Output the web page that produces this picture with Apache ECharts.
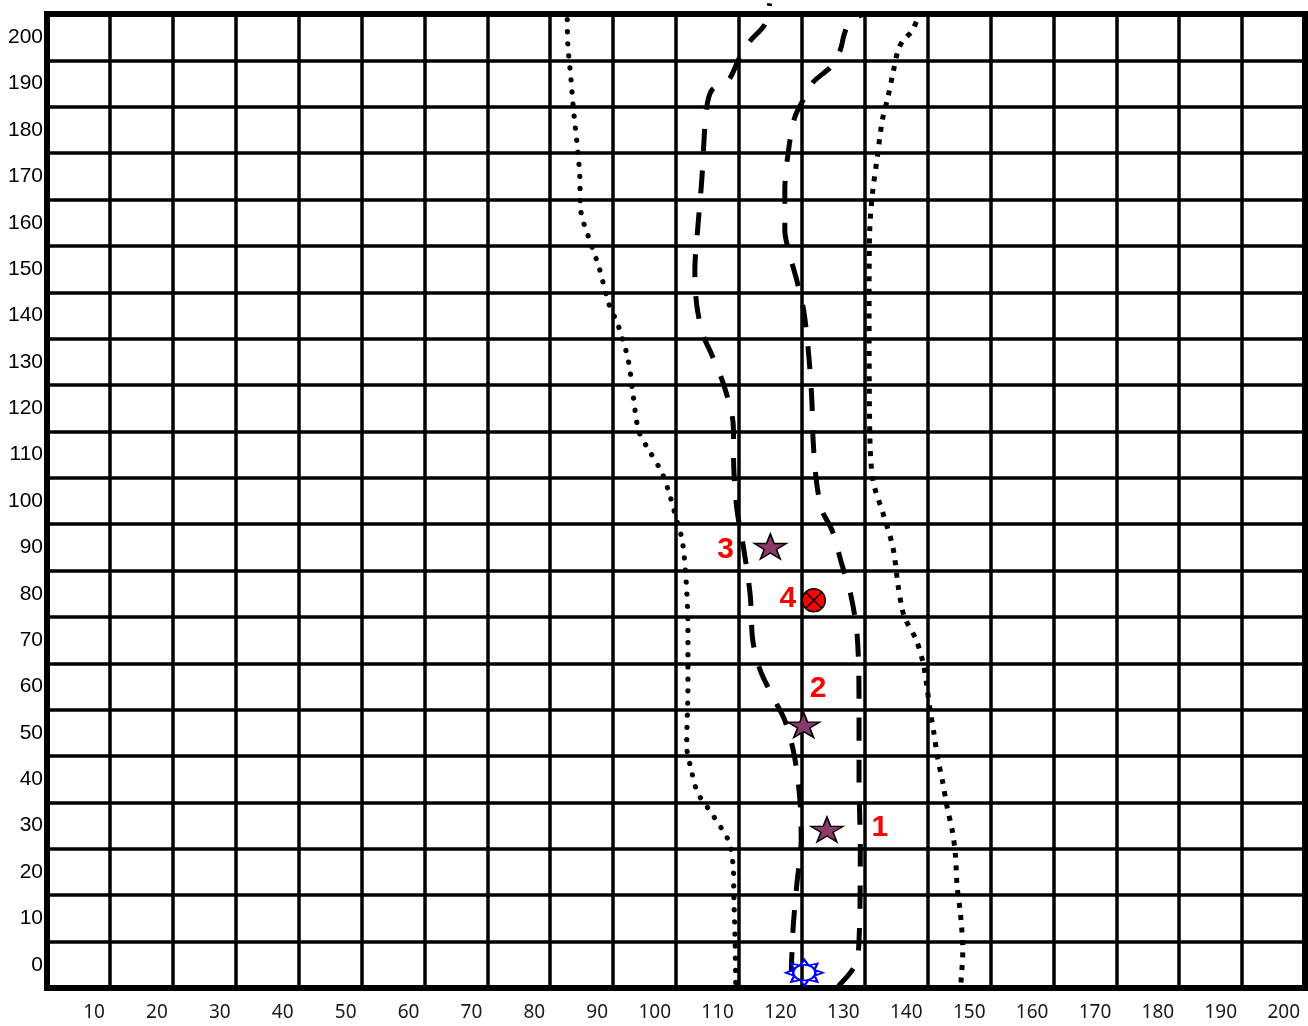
<!DOCTYPE html>
<html>
<head>
<meta charset="utf-8">
<script src="https://cdn.jsdelivr.net/npm/echarts@6/dist/echarts.min.js"></script>
<style>
  html, body { margin: 0; padding: 0; background: #fff; }
  #chart { width: 1308px; height: 1026px; }
</style>
</head>
<body>
<div id="chart"></div>
<script>
// ---- tick labels ----
const yCategories = ['0','10','20','30','40','50','60','70','80','90','100','110','120','130','140','150','160','170','180','190','200'];

// ---- series values [x, y] ----
const leftDotted = [
  [109.5,-3.8],[109.4,5],[109.2,15],[109.1,21.1],[108.5,26.2],[107.7,28.4],[106.6,30.7],[105.6,32.8],
  [104.5,34.9],[103.4,37.1],[102.4,42.2],[101.7,47.2],[101.9,60.1],[101.9,72.8],[101.6,82.9],[101.0,91.5],
  [100.2,95.4],[99.0,101.3],[97.8,106.0],[95.9,110.5],[94.1,115.0],[93.2,122.6],[92.4,130.4],[90.8,137.9],
  [89.3,142.6],[87.8,150.2],[86.0,157.3],[84.9,162.2],[84.7,170.0],[84.4,175.2],[83.8,183.0],[83.3,191.0],
  [82.8,198.5],[82.7,204.8]
];
const leftDashed = [
  [118.3,-2.2],[118.6,7.5],[119.2,17.2],[119.9,26.9],[119.7,35.5],[118.8,45.2],[117.3,52.7],[115.7,57.0],
  [113.4,63.5],[112.2,70.0],[111.8,79.7],[110.8,89.4],[109.7,98.0],[109.2,106.6],[109.1,116.4],[107.6,125.0],
  [105.7,131.5],[104.3,135.8],[103.3,142.2],[103.0,149.8],[103.5,159.5],[104.1,169.2],[104.5,178.9],
  [104.8,184.3],[105.7,188.6],[108.4,190.9],[110.0,195.3],[111.8,199.2],[114.1,202.7],[114.9,207.3]
];
const rightDashed = [
  [125.8,-4.6],[128.5,-0.1],[129.1,5.3],[129.3,24.8],[129.1,39.9],[129.1,57.1],[128.8,71.1],[127.8,79.7],
  [126.4,86.2],[124.8,93.7],[123.2,98.0],[122.3,104.5],[121.8,113.1],[121.6,121.7],[121.1,131.5],
  [120.3,141.1],[119.2,147.6],[118.1,153.0],[117.3,158.4],[117.3,167.0],[118.0,176.7],[118.9,182.8],
  [120.2,186.4],[121.8,190.3],[124.5,193.5],[126.1,197.2],[126.7,200.4],[127.4,202.8],[128.5,204.2],[129.8,204.9]
];
const rightDotted = [
  [145.3,-3.8],[145.6,3.2],[145.2,11.3],[144.7,16.8],[144.4,24.1],[143.9,29.1],[143.1,34.0],[142.4,39.4],
  [141.6,44.6],[141.0,50.0],[140.4,54.9],[139.9,59.8],[139.3,65.0],[138.2,70.0],[136.4,74.7],[135.9,77.1],
  [135.3,81.8],[134.5,89.9],[132.9,97.4],[131.3,104.5],[130.8,115.3],[130.7,143.3],[130.8,158.4],
  [131.2,165.9],[132.0,174.1],[132.8,182.1],[133.7,187.1],[134.5,192.3],[135.3,197.2],[136.1,199.3],
  [137.5,201.3],[138.5,204.3]
];
const starPoints = [[124.0,29.2],[120.3,51.7],[115.0,90.2]];
const crossPoints = [[121.9,78.6]];
const sunPoints = [[120.4,-1.7]];
const numberLabels = [[132.4,29.5,'1'],[122.6,59.5,'2'],[107.9,89.6,'3'],[117.8,79.0,'4']];

const STAR = 'path://M50,0 L61.23,34.55 L97.55,34.55 L68.16,55.9 L79.39,90.45 L50,69.1 L20.61,90.45 L31.84,55.9 L2.45,34.55 L38.77,34.55 Z';
const SUN = 'path://M100,50 L77.7,61.5 L85.4,85.4 L61.5,77.7 L50,100 L38.5,77.7 L14.6,85.4 L22.3,61.5 L0,50 L22.3,38.5 L14.6,14.6 L38.5,22.3 L50,0 L61.5,22.3 L85.4,14.6 L77.7,38.5 Z M20,50 A30,30 0 1 0 80,50 A30,30 0 1 0 20,50 Z';
const XMARK = 'path://M0,0 L10,10 M10,0 L0,10';

function lineSeries(data, width, dash, cap) {
  return {
    type: 'line', data: data, xAxisIndex: 0, yAxisIndex: 1,
    showSymbol: false, symbol: 'none', smooth: 0.3, clip: false, z: 3,
    lineStyle: { color: '#000', width: width, type: dash, cap: cap, opacity: 1 },
    emphasis: { disabled: true }, silent: true
  };
}

const chart = echarts.init(document.getElementById('chart'), null, { renderer: 'canvas' });
chart.setOption({
  animation: false,
  backgroundColor: '#fff',
  grid: { left: 47, right: 3, top: 14, bottom: 38, show: true, borderColor: '#000', borderWidth: 6, backgroundColor: 'transparent' },
  xAxis: {
    type: 'value', min: 0, max: 200, interval: 10,
    axisLine: { show: false }, axisTick: { show: false },
    splitLine: { show: true, lineStyle: { color: '#000', width: 3.5 } },
    axisLabel: {
      formatter: v => (v === 0 ? '' : String(v)),
      align: 'right', padding: [0, 5, 0, 0], margin: 15,
      fontSize: 19, fontFamily: 'Noto Sans', color: '#1a1a1a',
      showMaxLabel: true
    }
  },
  yAxis: [
    {
      type: 'category', data: yCategories, boundaryGap: true,
      axisLine: { show: false }, axisTick: { show: false },
      splitLine: { show: true, interval: 0, lineStyle: { color: '#000', width: 3.5 } },
      axisLabel: { interval: 0, margin: 4, fontSize: 21, fontFamily: 'Liberation Sans', color: '#000' }
    },
    { type: 'value', min: -5, max: 205, show: false }
  ],
  series: [
    lineSeries(leftDotted, 5.2, [0.1, 12], 'round'),
    lineSeries(leftDashed, 5, [23, 19], 'butt'),
    lineSeries(rightDashed, 5, [23, 19], 'butt'),
    lineSeries(rightDotted, 5, [5, 7.5], 'butt'),
    {
      type: 'scatter', data: starPoints, xAxisIndex: 0, yAxisIndex: 1, z: 5,
      symbol: STAR, symbolSize: [32, 25], symbolKeepAspect: false,
      itemStyle: { color: '#8b3a6b', borderColor: '#000', borderWidth: 1.5, opacity: 1 }, silent: true
    },
    {
      type: 'scatter', data: crossPoints, xAxisIndex: 0, yAxisIndex: 1, z: 5,
      symbol: 'circle', symbolSize: 23,
      itemStyle: { color: '#ff0000', borderColor: '#000', borderWidth: 1.5, opacity: 1 }, silent: true
    },
    {
      type: 'scatter', data: crossPoints, xAxisIndex: 0, yAxisIndex: 1, z: 6,
      symbol: XMARK, symbolSize: 15,
      itemStyle: { color: 'none', borderColor: '#000', borderWidth: 1.5, opacity: 1 }, silent: true
    },
    {
      type: 'scatter', data: sunPoints, xAxisIndex: 0, yAxisIndex: 1, z: 5,
      symbol: SUN, symbolSize: [37, 26], symbolKeepAspect: false,
      itemStyle: { color: '#fff', borderColor: '#0000ff', borderWidth: 2, opacity: 1 }, silent: true
    },
    {
      type: 'scatter', data: numberLabels, xAxisIndex: 0, yAxisIndex: 1, z: 6,
      symbolSize: 1, itemStyle: { color: 'transparent', opacity: 1 }, silent: true,
      label: {
        show: true, position: 'inside', formatter: p => p.data[2], opacity: 1,
        fontSize: 30, fontWeight: 'bold', fontFamily: 'Liberation Sans', color: '#ff0000'
      }
    }
  ]
});
</script>
</body>
</html>
